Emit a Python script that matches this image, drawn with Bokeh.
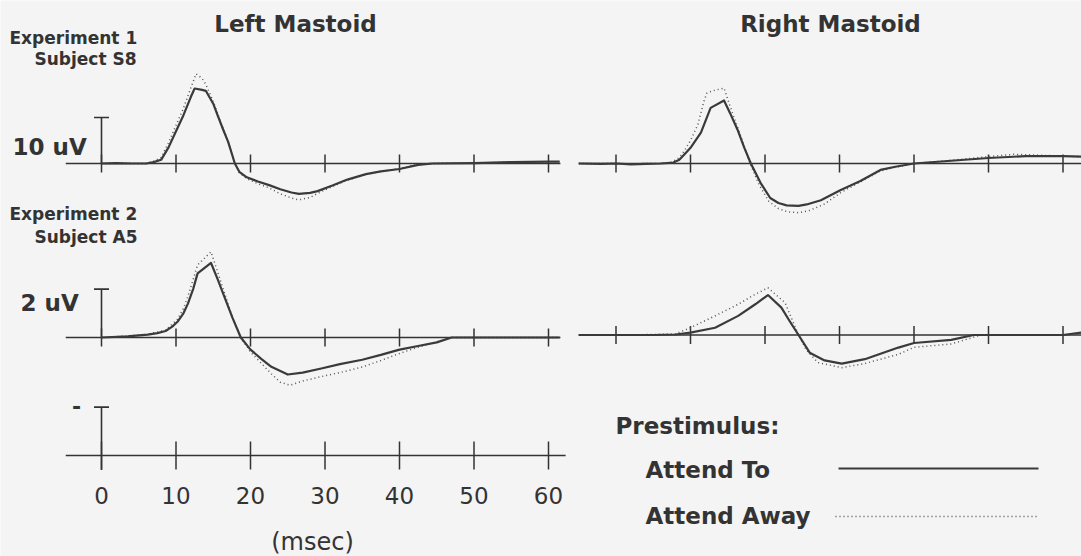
import math
from bokeh.plotting import figure
from bokeh.models import Range1d
from bokeh.core.properties import value
from bokeh.embed import file_html
from bokeh.resources import INLINE

# ---------------- data (ms, uV) ----------------
TICKS_MS = [0, 10, 20, 30, 40, 50, 60]
TICK_LABELS = ["0", "10", "20", "30", "40", "50", "60"]

# Experiment 1 (Subject S8), Left Mastoid
e1_left_t_to = [0, 2, 4, 6, 7, 8, 9, 10, 11, 12, 12.5, 13.5, 14, 15, 15.6, 16.3, 17, 17.9, 18.5, 19.5, 21, 22.5, 24,
                25.5, 26.5, 28, 29, 31, 33, 35.5, 37.5, 40, 42.5, 44.5, 50, 55, 60, 61.5]
e1_left_v_to = [0, 0.1, 0, 0, 0.3, 0.8, 3.5, 7.0, 10.5, 14.5, 16.3, 16.0, 15.8, 13.0, 10.4, 7.5, 4.7, 0, -1.8, -3.0,
                -3.9, -4.7, -5.6, -6.3, -6.6, -6.4, -6.0, -4.8, -3.5, -2.3, -1.7, -1.2, -0.3, 0, 0.1, 0.3, 0.4, 0.4]
e1_left_t_away = [0, 2, 4, 6, 7, 8, 9, 10, 11, 12, 12.7, 13.5, 14, 15, 16, 17, 17.9, 18.5, 19.5, 21, 22.5, 24, 25.5,
                  26.5, 28, 29, 31, 33, 35.5, 37.5, 40, 42, 44, 50, 55, 60, 61.5]
e1_left_v_away = [0, 0, 0, 0, 0.5, 1.3, 4.5, 8.3, 12.0, 16.5, 19.5, 18.5, 17.2, 13.5, 9.0, 4.8, 0, -2.0, -3.3, -4.4,
                  -5.3, -6.6, -7.5, -7.9, -7.4, -6.5, -5.0, -3.6, -2.4, -1.7, -1.1, -0.3, 0, 0.1, 0.3, 0.4, 0.4]

# Experiment 1 (Subject S8), Right Mastoid
e1_right_t_to = [-5, -2, 0, 2, 4, 6, 7.7, 8.5, 9.2, 10, 11.4, 12.7, 14.5, 15.3, 16.3, 17.2, 18.1, 19.4, 20.7, 21.8,
                 22.9, 24.5, 25.6, 27.5, 30.1, 32.8, 35.5, 37.5, 40, 45, 50, 55, 60, 62.5]
e1_right_v_to = [0, -0.1, 0, -0.2, -0.1, 0, 0.2, 0.8, 2.0, 3.4, 6.7, 12.1, 13.7, 11.0, 7.4, 3.5, 0, -4.2, -7.5, -8.6,
                 -9.1, -9.2, -8.9, -8.0, -5.8, -3.8, -1.4, -0.7, 0, 0.6, 1.2, 1.6, 1.6, 1.5]
e1_right_t_away = [-5, -2, 0, 2, 4, 6, 7.5, 8.5, 9.2, 10, 11, 11.8, 12.2, 13, 14.5, 15.3, 16.3, 17.2, 18, 19.2, 20.5,
                   21.8, 23, 24.5, 26, 28, 30.1, 32.8, 35.5, 37.5, 40, 45, 50, 53.4, 57, 60, 62.5]
e1_right_v_away = [0, 0, 0, -0.1, 0, 0, 0.3, 1.3, 2.8, 5.0, 8.5, 13.5, 15.3, 15.8, 16.4, 12.5, 8.0, 3.8, 0, -4.6,
                   -8.2, -9.8, -10.5, -10.7, -10.2, -8.8, -6.4, -4.0, -1.6, -0.8, 0, 0.7, 1.5, 2.0, 1.8, 1.6, 1.5]

# Experiment 2 (Subject A5), Left Mastoid
e2_left_t_to = [0, 3.5, 6.2, 7.5, 8.6, 9.5, 10.2, 11, 11.6, 12.3, 12.9, 14.7, 15.6, 16.5, 17.6, 18.7, 20, 21.4, 22.8,
                25, 27, 29.5, 32, 35, 37.5, 40, 42.5, 45, 47, 50, 55, 60, 61.5]
e2_left_v_to = [0, 0.05, 0.12, 0.18, 0.27, 0.45, 0.65, 1.0, 1.4, 2.0, 2.65, 3.08, 2.4, 1.68, 0.8, 0, -0.5, -0.87,
                -1.21, -1.53, -1.45, -1.28, -1.1, -0.92, -0.72, -0.5, -0.35, -0.2, 0, 0, 0, 0, 0]
e2_left_t_away = [0, 6, 8.6, 10.2, 11, 11.6, 12.3, 12.9, 14.7, 15.6, 16.5, 17.6, 18.7, 20, 21.4, 22.8, 24, 25.3, 27,
                  30, 32, 35, 37.5, 40, 42.5, 45, 47, 50, 60, 61.5]
e2_left_v_away = [0, 0.12, 0.3, 0.75, 1.2, 1.7, 2.4, 3.0, 3.54, 2.7, 1.85, 0.8, 0, -0.6, -1.05, -1.5, -1.85, -1.97,
                  -1.8, -1.58, -1.45, -1.22, -0.95, -0.66, -0.4, -0.18, 0, 0, 0, 0]

# Experiment 2 (Subject A5), Right Mastoid
e2_right_t_to = [-5, 0, 5, 8, 10, 13.3, 16.4, 18.7, 20.4, 22.2, 23.3, 24.5, 26, 28, 30.3, 33.4, 37.9, 40, 45, 48, 55,
                 60, 62.5]
e2_right_v_to = [0, 0, 0, 0.02, 0.1, 0.3, 0.79, 1.27, 1.65, 1.13, 0.58, 0, -0.73, -1.05, -1.18, -1.0, -0.52, -0.33,
                 -0.2, 0, 0, 0, 0.1]
e2_right_t_away = [-5, 0, 5, 8, 10, 13.3, 16.4, 18.5, 20.4, 22.7, 24.5, 25.5, 27.1, 30.3, 33.4, 37.9, 40, 45, 49, 55,
                   60, 62.5]
e2_right_v_away = [0, 0, 0.02, 0.05, 0.3, 0.79, 1.27, 1.65, 1.95, 1.33, 0, -0.6, -1.14, -1.35, -1.18, -0.8, -0.51,
                   -0.37, 0, 0, 0, 0.1]

CAL_TOP_UV = 10   # "10 uV" calibration
CAL_BOT_UV = 2    # "2 uV" calibration

# ---------------- layout (pixels) ----------------
W, H = 1081, 556
BG = "#f4f4f4"
INK = "#333333"
PX_PER_MS = 7.45
X0_LEFT, X0_RIGHT = 101, 615.5
BASE_TOP, BASE_BL, BASE_BR, BASE_SC = 163, 337, 334.5, 455
K_TOP, K_BOT = 4.6, 24.2  # px per uV


def xr(x0):
    return Range1d(-x0 / PX_PER_MS, (W - x0) / PX_PER_MS)


def yr(base, k):
    return Range1d(-(H - base) / k, base / k)


p = figure(width=W, height=H, x_range=Range1d(0, W), y_range=Range1d(H, 0),
           x_axis_location=None, y_axis_location=None, toolbar_location=None,
           output_backend="svg", min_border=0, outline_line_color=None,
           background_fill_color=BG, border_fill_color=BG)
p.grid.visible = False
p.extra_x_ranges = {"L": xr(X0_LEFT), "R": xr(X0_RIGHT)}
p.extra_y_ranges = {"T": yr(BASE_TOP, K_TOP), "BL": yr(BASE_BL, K_BOT),
                    "BR": yr(BASE_BR, K_BOT), "S": yr(BASE_SC, K_BOT)}

FONT = value("DejaVu Sans")


def panel(xn, yn, x_start, x_end, tick_size, cal=None, cal_below=0):
    # baseline
    p.segment(x0=[x_start], y0=[0], x1=[x_end], y1=[0], line_color=INK, line_width=1.6,
              x_range_name=xn, y_range_name=yn)
    # tick marks
    p.scatter(x=TICKS_MS, y=[0] * len(TICKS_MS), marker="dash", angle=math.pi / 2, size=tick_size,
              line_color=INK, line_width=1.5, x_range_name=xn, y_range_name=yn)
    if cal is not None:
        p.segment(x0=[0], y0=[cal_below], x1=[0], y1=[cal], line_color=INK, line_width=1.6,
                  x_range_name=xn, y_range_name=yn)
        p.scatter(x=[0], y=[cal], marker="dash", size=15, line_color=INK, line_width=1.6,
                  x_range_name=xn, y_range_name=yn)


def curves(xn, yn, t_to, v_to, t_away, v_away):
    p.line(t_away, v_away, line_color="#555555", line_width=1.5, line_dash="1 3",
           x_range_name=xn, y_range_name=yn)
    p.line(t_to, v_to, line_color="#3a3a3a", line_width=2.2, line_join="round",
           x_range_name=xn, y_range_name=yn)


panel("L", "T", -4.8, 61.6, 18, cal=CAL_TOP_UV)
panel("R", "T", -5.0, 62.5, 18)
panel("L", "BL", -4.8, 61.6, 18, cal=CAL_BOT_UV)
panel("R", "BR", -5.0, 62.5, 18)
panel("L", "S", -4.8, 62.3, 28, cal=CAL_BOT_UV, cal_below=-0.6)

curves("L", "T", e1_left_t_to, e1_left_v_to, e1_left_t_away, e1_left_v_away)
curves("R", "T", e1_right_t_to, e1_right_v_to, e1_right_t_away, e1_right_v_away)
curves("L", "BL", e2_left_t_to, e2_left_v_to, e2_left_t_away, e2_left_v_away)
curves("R", "BR", e2_right_t_to, e2_right_v_to, e2_right_t_away, e2_right_v_away)


def txt(x, y, s, size, align="left", bold=True, xn="default"):
    p.text(x=[x], y=[y], text=[s], text_font=FONT, text_font_size=size,
           text_font_style="bold" if bold else "normal", text_color=INK,
           text_align=align, text_baseline="middle", x_range_name=xn)


# titles and labels
txt(295, 23, "Left Mastoid", "23px", "center")
txt(830, 23, "Right Mastoid", "23px", "center")
txt(9, 37, "Experiment 1", "17px")
txt(34, 58, "Subject S8", "17px")
txt(12, 146, "10 uV", "23px")
txt(9, 213, "Experiment 2", "17px")
txt(34, 236, "Subject A5", "17px")
txt(20, 302, "2 uV", "23px")
txt(76, 405, "-", "22px", "center")

# time axis labels
p.text(x=TICKS_MS, y=[495] * len(TICKS_MS), text=TICK_LABELS, text_font=FONT, text_font_size="23px",
       text_color=INK, text_align="center", text_baseline="middle", x_range_name="L")
txt(312, 541, "(msec)", "24px", "center", bold=False)

# legend
txt(615, 425, "Prestimulus:", "23px")
txt(645, 469, "Attend To", "23px")
txt(645, 515, "Attend Away", "23px")
p.segment(x0=[838], y0=[468], x1=[1038], y1=[468], line_color="#3a3a3a", line_width=2.2)
p.segment(x0=[835], y0=[516], x1=[1038], y1=[516], line_color="#555555", line_width=1.5, line_dash="1 3")

open("out.html", "w").write(file_html(p, INLINE))
